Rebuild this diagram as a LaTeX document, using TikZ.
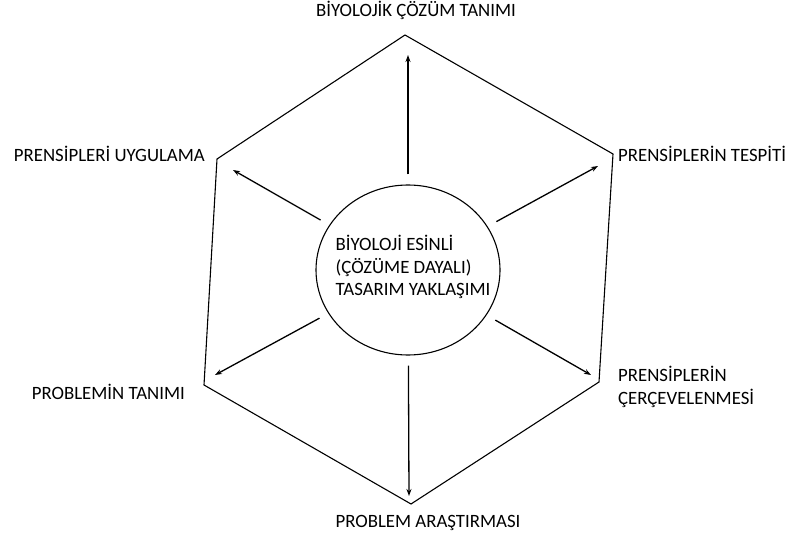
\documentclass[tikz,border=0pt]{standalone}
\usepackage{fontspec}
\setmainfont{Carlito}
\usepackage{tikz}
\usetikzlibrary{arrows.meta,shapes.geometric}

\tikzset{
  lbl/.style={inner sep=0pt,font=\fontsize{18.8}{22.5}\selectfont},
  arr/.style={-{Stealth[length=7pt,width=5pt]},line width=1.3pt,shorten <=10pt},
}

\begin{document}
\begin{tikzpicture}[x=1pt,y=-1pt]
\useasboundingbox (0,0) rectangle (789,537);
% hexagon corners
\coordinate (vt) at (405,35);
\coordinate (vur) at (613,154);
\coordinate (vlr) at (599,382);
\coordinate (vb) at (411,504);
\coordinate (vll) at (204,385);
\coordinate (vul) at (217,159);
\draw[line width=1.1pt] (vt) -- (vur) -- (vlr) -- (vb) -- (vll) -- (vul) -- cycle;

\node[ellipse,draw,line width=1.1pt,minimum width=184pt,minimum height=170pt,inner sep=0pt] (c) at (408,270) {};
\node[lbl,align=left] (ctext) at (413,267) {B\.IYOLOJ\.I ES\.INL\.I\\(ÇÖZÜME DAYALI)\\TASARIM YAKLAŞIMI};

% arrow tips
\coordinate (t1) at (408,55);
\coordinate (t2) at (598,166);
\coordinate (t3) at (591,375);
\coordinate (t4) at (409,496);
\coordinate (t5) at (215,375);
\coordinate (t6) at (233,170);
\draw[arr] (c) -- (t1);
\draw[arr] (c) -- (t2);
\draw[arr] (c) -- (t3);
\draw[arr] (c) -- (t4);
\draw[arr] (c) -- (t5);
\draw[arr] (c) -- (t6);

\node[lbl] (l1) at (416,10) {B\.IYOLOJ\.IK ÇÖZÜM TANIMI};
\node[lbl,anchor=west] (l2) at (618,154) {PRENS\.IPLER\.IN TESP\.IT\.I};
\node[lbl,anchor=west,align=left] (l3) at (618,387) {PRENS\.IPLER\.IN\\ÇERÇEVELENMES\.I};
\node[lbl] (l4) at (428,523) {PROBLEM ARAŞTIRMASI};
\node[lbl,anchor=east] (l5) at (185,392) {PROBLEM\.IN TANIMI};
\node[lbl,anchor=east] (l6) at (205,154) {PRENS\.IPLER\.I UYGULAMA};
\end{tikzpicture}
\end{document}
